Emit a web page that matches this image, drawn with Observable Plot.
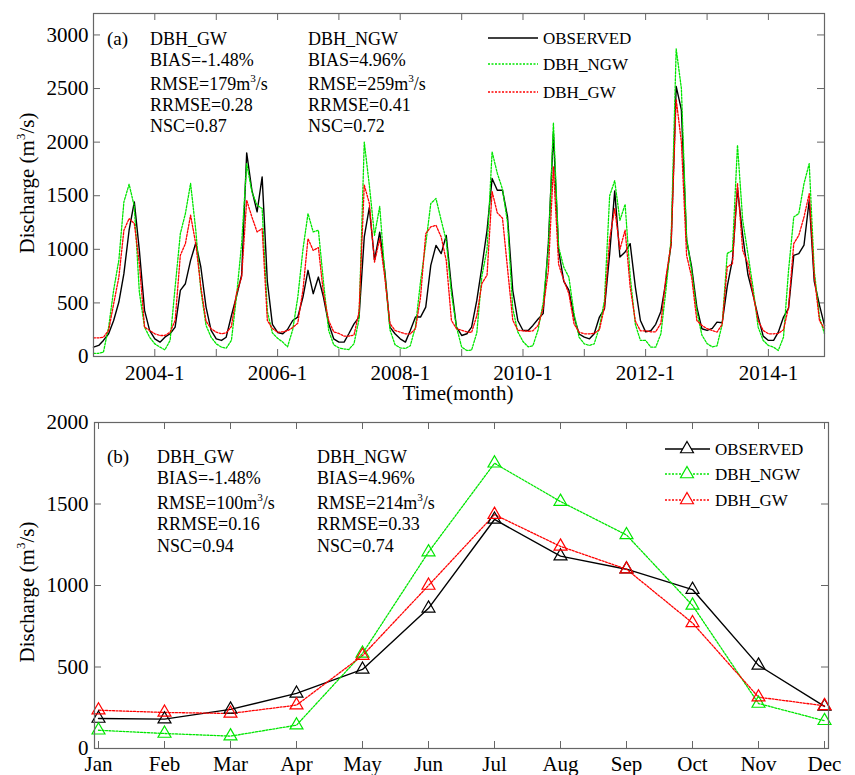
<!DOCTYPE html>
<html><head><meta charset="utf-8">
<script src="https://cdn.jsdelivr.net/npm/d3@7"></script>
<script src="https://cdn.jsdelivr.net/npm/@observablehq/plot@0.6"></script>
<style>
body{margin:0;background:#fff}
#chart{width:855px;height:775px;overflow:hidden;background:#fff}
#chart svg{display:block}
</style></head><body><div id="chart"></div>
<script>
const FONT = "'Liberation Serif','Times New Roman',Times,serif";

// ---------- Panel (a): monthly discharge, Jan 2003 - Dec 2014 ----------
const startYear = 2003;
const obs = [
  87, 103, 150, 212, 336, 508, 773, 1178, 1442, 990, 430, 243,
  165, 134, 180, 212, 274, 617, 679, 897, 1059, 835, 461, 243,
  165, 150, 180, 380, 560, 760, 1900, 1550, 1350, 1676, 700, 300,
  224, 212, 252, 336, 368, 555, 804, 586, 741, 555, 305, 165,
  134, 134, 212, 305, 368, 1115, 1390, 900, 1160, 800, 274, 212,
  165, 134, 243, 368, 368, 461, 850, 1037, 960, 1130, 648, 274,
  196, 212, 274, 523, 835, 1178, 1660, 1551, 1551, 1302, 617, 336,
  243, 243, 290, 350, 400, 1053, 2085, 990, 700, 620, 370, 210,
  180, 165, 212, 368, 445, 960, 1545, 928, 975, 1053, 648, 336,
  230, 240, 300, 420, 700, 1050, 2520, 2300, 1084, 835, 461, 259,
  243, 262, 321, 315, 654, 903, 1567, 1130, 765, 580, 370, 190,
  150, 150, 227, 368, 450, 944, 960, 1040, 1458, 700, 480, 290
];
const ngw = [
  30, 30, 40, 274, 620, 900, 1442, 1607, 1400, 600, 274, 180,
  118, 87, 62, 150, 648, 1146, 1333, 1614, 1178, 617, 290, 180,
  118, 87, 78, 150, 555, 1056, 1800, 1536, 1411, 1380, 420, 220,
  170, 134, 90, 250, 550, 1000, 1333, 1162, 1178, 700, 243, 110,
  80, 70, 65, 120, 350, 2000, 1600, 1130, 1400, 780, 250, 110,
  80, 75, 100, 280, 700, 1050, 1427, 1474, 1271, 1084, 586, 274,
  87, 56, 60, 220, 750, 1000, 1910, 1710, 1560, 1250, 450, 230,
  140, 90, 100, 250, 500, 1000, 2180, 1022, 832, 741, 399, 180,
  118, 103, 118, 274, 523, 1500, 1640, 1270, 1420, 750, 300, 150,
  150, 87, 87, 212, 620, 1100, 2870, 2500, 1110, 800, 420, 200,
  120, 90, 100, 300, 962, 990, 1972, 1271, 960, 648, 274, 150,
  103, 87, 56, 181, 804, 1302, 1333, 1614, 1800, 800, 368, 212
];
const gw = [
  174, 174, 180, 243, 492, 741, 1178, 1287, 1240, 866, 274, 243,
  212, 196, 196, 227, 336, 944, 1053, 1318, 1050, 650, 330, 259,
  227, 212, 220, 280, 588, 741, 1458, 1302, 1162, 1193, 336, 262,
  227, 230, 240, 270, 310, 620, 1100, 990, 1016, 588, 336, 230,
  215, 190, 190, 200, 420, 1600, 1430, 880, 1100, 740, 308, 243,
  227, 212, 212, 259, 554, 1146, 1209, 1224, 1115, 897, 336, 259,
  245, 230, 225, 380, 680, 760, 1540, 1340, 1290, 820, 340, 245,
  240, 235, 240, 290, 450, 800, 1770, 860, 710, 586, 305, 227,
  212, 212, 215, 250, 461, 1100, 1380, 1000, 1180, 650, 330, 240,
  240, 230, 230, 310, 740, 1050, 2400, 2000, 944, 741, 336, 290,
  259, 243, 227, 300, 835, 866, 1614, 990, 866, 586, 336, 243,
  212, 212, 215, 250, 461, 1053, 1130, 1302, 1520, 750, 336, 260
];
const labelYears = [2004, 2006, 2008, 2010, 2012, 2014];
const tickYears = [2004, 2005, 2006, 2007, 2008, 2009, 2010, 2011, 2012, 2013, 2014];
const yTicksA = [0, 500, 1000, 1500, 2000, 2500, 3000];
const statsA_GW = ["DBH_GW", "BIAS=-1.48%", "RMSE=179m|3|/s", "RRMSE=0.28", "NSC=0.87"];
const statsA_NGW = ["DBH_NGW", "BIAS=4.96%", "RMSE=259m|3|/s", "RRMSE=0.41", "NSC=0.72"];

// ---------- Panel (b): mean monthly discharge ----------
const months = ["Jan","Feb","Mar","Apr","May","Jun","Jul","Aug","Sep","Oct","Nov","Dec"];
const obsMean = [184, 180, 240, 338, 485, 860, 1405, 1180, 1100, 975, 510, 258];
const ngwMean = [112, 92, 76, 143, 583, 1205, 1750, 1515, 1310, 878, 276, 170];
const gwMean  = [235, 221, 215, 266, 570, 1000, 1435, 1240, 1100, 770, 315, 262];
const yTicksB = [0, 500, 1000, 1500, 2000];
const statsB_GW = ["DBH_GW", "BIAS=-1.48%", "RMSE=100m|3|/s", "RRMSE=0.16", "NSC=0.94"];
const statsB_NGW = ["DBH_NGW", "BIAS=4.96%", "RMSE=214m|3|/s", "RRMSE=0.33", "NSC=0.74"];

const seriesNames = ["OBSERVED", "DBH_NGW", "DBH_GW"];
const seriesKeys = ["obs", "ngw", "gw"];
const colors = ["#000000", "#00e600", "#ff0000"];
const dashes = [null, "2,1.5", "2,1.5"];
const widths = [1.4, 1.3, 1.3];

// ---------- helpers ----------
const utc = (y, m = 0) => new Date(Date.UTC(y, m, 1));
const ts = obs.map((v, i) => ({date: utc(startYear, i), obs: v, ngw: ngw[i], gw: gw[i]}));
const clim = months.map((m, i) => ({month: m, obs: obsMean[i], ngw: ngwMean[i], gw: gwMean[i]}));
const FRAME = "#666";
const TICK = 7;

function richText(sel, str, supShift) {
  const parts = str.split("|");
  sel.append("tspan").text(parts[0]);
  if (parts.length > 1) {
    sel.append("tspan").attr("dy", -supShift).attr("font-size", "0.62em").text(parts[1]);
    sel.append("tspan").attr("dy", supShift).text(parts[2]);
  }
}
function block(svg, x, baselines, lines, size) {
  const g = d3.select(svg).append("g").attr("font-family", FONT).attr("font-size", size)
    .attr("fill", "black").attr("text-anchor", "start");
  lines.forEach((s, i) => richText(g.append("text").attr("x", x).attr("y", baselines[i]), s, 8));
}
function ylabel(svg, cx, cy) {
  const t = d3.select(svg).append("text").attr("font-family", FONT).attr("font-size", 21)
    .attr("text-anchor", "middle").attr("transform", `translate(${cx},${cy}) rotate(-90)`).attr("dy", "0.35em");
  richText(t, "Discharge (m|3|/s)", 9);
}

const W = 855;
// ---------- top chart ----------
const HA = 405, mA = {l: 93, r: 31, t: 13, b: 49};
const iwA = W - mA.l - mA.r, ihA = HA - mA.t - mA.b;
const yearDates = tickYears.map(y => utc(y));
const topChart = Plot.plot({
  width: W, height: HA,
  marginLeft: mA.l, marginRight: mA.r, marginTop: mA.t, marginBottom: mA.b,
  style: {fontFamily: FONT, fontSize: "21px", color: "black", background: "white", overflow: "visible"},
  x: {type: "utc", domain: [ts[0].date, ts[ts.length - 1].date], ticks: labelYears.map(y => utc(y)),
      tickFormat: d => `${d.getUTCFullYear()}-${d.getUTCMonth() + 1}`, tickSize: 0, tickPadding: 9, label: null},
  y: {domain: [0, 3200], ticks: yTicksA, tickFormat: "d", tickSize: 0, tickPadding: 5, label: null},
  marks: [
    Plot.tickX(yearDates, {x: d => d, stroke: FRAME, insetTop: ihA - TICK}),
    Plot.tickX(yearDates, {x: d => d, stroke: FRAME, insetBottom: ihA - TICK}),
    Plot.tickY(yTicksA, {y: d => d, stroke: FRAME, insetRight: iwA - TICK}),
    Plot.tickY(yTicksA, {y: d => d, stroke: FRAME, insetLeft: iwA - TICK}),
    ...seriesKeys.map((k, i) => Plot.line(ts, {x: "date", y: k, stroke: colors[i], strokeWidth: widths[i], strokeDasharray: dashes[i]})),
    Plot.frame({stroke: FRAME, strokeWidth: 1.2})
  ]
});
block(topChart, 107, [45], ["(a)"], 19);
block(topChart, 150, [45, 66, 90, 111, 132], statsA_GW, 18);
block(topChart, 308, [45, 66, 90, 111, 132], statsA_NGW, 18);
ylabel(topChart, 27, 183);
d3.select(topChart).append("text").attr("font-family", FONT).attr("font-size", 21).attr("text-anchor", "middle")
  .attr("x", 458).attr("y", 400).text("Time(month)");
{
  const g = d3.select(topChart).append("g").attr("font-family", FONT).attr("font-size", 17).attr("text-anchor", "start");
  const ys = [38, 64, 92];
  seriesNames.forEach((n, i) => {
    g.append("line").attr("x1", 488).attr("x2", 538).attr("y1", ys[i]).attr("y2", ys[i])
      .attr("stroke", colors[i]).attr("stroke-width", widths[i]).attr("stroke-dasharray", dashes[i]);
    g.append("text").attr("x", 543).attr("y", ys[i]).attr("dy", "0.35em").text(n);
  });
}

// ---------- bottom chart ----------
const HB = 370, mB = {l: 94, r: 27, t: 17, b: 27};
const iwB = W - mB.l - mB.r, ihB = HB - mB.t - mB.b;
const R = 4.8;
const bottomChart = Plot.plot({
  width: W, height: HB,
  marginLeft: mB.l, marginRight: mB.r, marginTop: mB.t, marginBottom: mB.b,
  style: {fontFamily: FONT, fontSize: "21px", color: "black", background: "white", overflow: "visible"},
  x: {type: "point", domain: months, padding: 0, tickSize: 0, tickPadding: 8, label: null},
  y: {domain: [0, 2000], ticks: yTicksB, tickFormat: "d", tickSize: 0, tickPadding: 6, label: null},
  marks: [
    Plot.tickX(months, {x: d => d, stroke: FRAME, insetTop: ihB - TICK}),
    Plot.tickX(months, {x: d => d, stroke: FRAME, insetBottom: ihB - TICK}),
    Plot.tickY(yTicksB, {y: d => d, stroke: FRAME, insetRight: iwB - TICK}),
    Plot.tickY(yTicksB, {y: d => d, stroke: FRAME, insetLeft: iwB - TICK}),
    ...seriesKeys.map((k, i) => Plot.line(clim, {x: "month", y: k, stroke: colors[i], strokeWidth: widths[i], strokeDasharray: dashes[i]})),
    ...seriesKeys.map((k, i) => Plot.dot(clim, {x: "month", y: k, symbol: "triangle", r: R, stroke: colors[i], fill: "none", strokeWidth: 1.2})),
    Plot.frame({stroke: FRAME, strokeWidth: 1.2})
  ]
});
block(bottomChart, 107, [58], ["(b)"], 19);
block(bottomChart, 157, [58, 79, 104, 125, 147], statsB_GW, 18);
block(bottomChart, 317, [58, 79, 104, 125, 147], statsB_NGW, 18);
ylabel(bottomChart, 27, 187);
{
  const g = d3.select(bottomChart).append("g").attr("font-family", FONT).attr("font-size", 17).attr("text-anchor", "start");
  const ys = [44, 69, 95];
  const tri = d3.symbol(d3.symbolTriangle, Math.PI * R * R)();
  seriesNames.forEach((n, i) => {
    g.append("line").attr("x1", 665).attr("x2", 710).attr("y1", ys[i]).attr("y2", ys[i])
      .attr("stroke", colors[i]).attr("stroke-width", widths[i]).attr("stroke-dasharray", dashes[i]);
    g.append("path").attr("d", tri).attr("transform", `translate(687,${ys[i]})`)
      .attr("fill", "white").attr("stroke", colors[i]).attr("stroke-width", 1.2);
    g.append("text").attr("x", 715).attr("y", ys[i]).attr("dy", "0.35em").text(n);
  });
}

const root = document.getElementById("chart");
root.appendChild(topChart);
root.appendChild(bottomChart);
</script></body></html>
